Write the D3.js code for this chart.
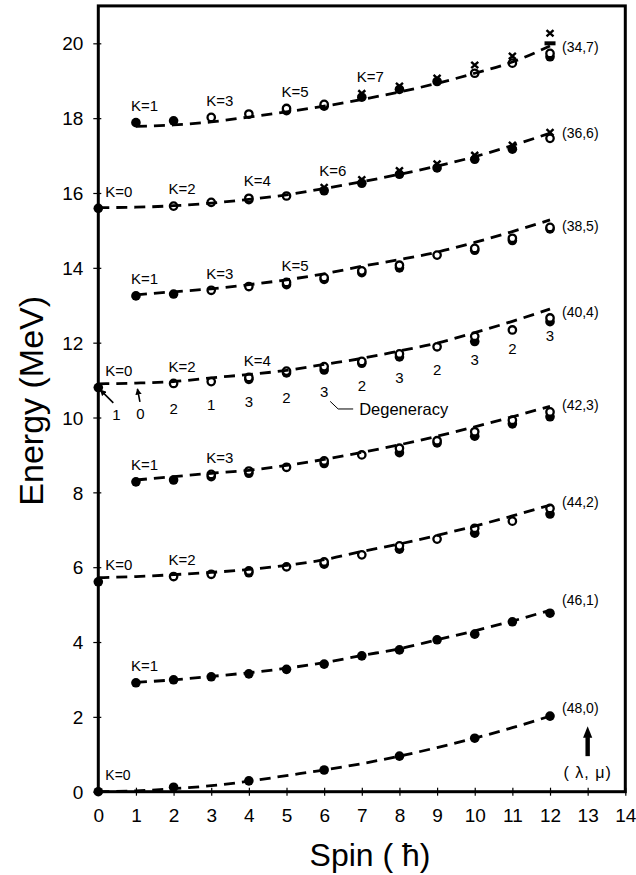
<!DOCTYPE html>
<html>
<head>
<meta charset="utf-8">
<script src="https://cdn.jsdelivr.net/npm/d3@7"></script>
<style>
  body { margin: 0; background: #fff; }
  svg { display: block; }
  text { font-family: Arial, "Liberation Sans", sans-serif; fill: #000; }
</style>
</head>
<body>
<div id="chart"></div>
<script>
// Rotational bands (lambda, mu): energy (MeV) against spin.
const xTicks = [0, 1, 2, 3, 4, 5, 6, 7, 8, 9, 10, 11, 12, 13, 14];
const yTicks = [0, 2, 4, 6, 8, 10, 12, 14, 16, 18, 20];

const bandNames = ["(34,7)", "(36,6)", "(38,5)", "(40,4)", "(42,3)", "(44,2)", "(46,1)", "(48,0)"];
const bandFirstSpin = [1, 0, 1, 0, 1, 0, 1, 0];
const bandLabelE = [19.91, 17.59, 15.12, 12.83, 10.33, 7.75, 5.12, 2.24];
const bandK = [[1, 3, 5, 7], [0, 2, 4, 6], [1, 3, 5], [0, 2, 4], [1, 3], [0, 2], [1], [0]];

// dashed fit lines, one value per spin starting at bandFirstSpin
const line34_7 = [17.78, 17.82, 17.9, 18.03, 18.17, 18.32, 18.5, 18.7, 18.93, 19.2, 19.5, 19.93];
const line36_6 = [15.61, 15.62, 15.66, 15.73, 15.83, 15.95, 16.12, 16.3, 16.5, 16.72, 16.97, 17.27, 17.6];
const line38_5 = [13.28, 13.36, 13.44, 13.55, 13.68, 13.84, 14.04, 14.22, 14.42, 14.68, 14.97, 15.28];
const line40_4 = [10.9, 10.92, 10.96, 11.06, 11.15, 11.26, 11.42, 11.58, 11.78, 11.99, 12.27, 12.57, 12.9];
const line42_3 = [8.33, 8.42, 8.51, 8.59, 8.72, 8.88, 9.07, 9.27, 9.5, 9.75, 10.02, 10.3];
const line44_2 = [5.72, 5.75, 5.8, 5.86, 5.94, 6.05, 6.2, 6.42, 6.62, 6.85, 7.1, 7.37, 7.66];
const line46_1 = [2.92, 2.99, 3.08, 3.18, 3.3, 3.45, 3.64, 3.82, 4.06, 4.3, 4.56, 4.85];
const line48_0 = [0, 0.02, 0.08, 0.16, 0.28, 0.43, 0.58, 0.75, 0.95, 1.18, 1.43, 1.71, 2.02];

// states: [spin, energy]
const filled34_7 = [[1, 17.88], [2, 17.93], [5, 18.2], [6, 18.32], [7, 18.56], [8, 18.77], [9, 18.98], [12, 19.64]];
const open34_7 = [[3, 18.02], [4, 18.11], [5, 18.26], [6, 18.37], [10, 19.2], [11, 19.47], [12, 19.73]];
const cross34_7 = [[7, 18.66], [8, 18.86], [9, 19.07], [10, 19.42], [11, 19.66], [12, 20.27]];
const bar34_7 = [[12, 20.0]];

const filled36_6 = [[0, 15.59], [4, 15.82], [6, 16.06], [7, 16.26], [8, 16.5], [9, 16.67], [10, 16.9], [11, 17.17]];
const open36_6 = [[2, 15.65], [3, 15.75], [4, 15.86], [5, 15.92], [12, 17.46]];
const cross36_6 = [[6, 16.15], [7, 16.36], [8, 16.6], [9, 16.78], [10, 17.01], [11, 17.28], [12, 17.62]];

const filled38_5 = [[1, 13.25], [2, 13.3], [5, 13.55], [6, 13.69], [7, 13.87], [8, 14.0], [10, 14.47], [11, 14.73], [12, 15.04]];
const open38_5 = [[3, 13.4], [4, 13.5], [5, 13.61], [6, 13.74], [7, 13.92], [8, 14.07], [9, 14.34], [10, 14.52], [11, 14.79], [12, 15.08]];

const filled40_4 = [[0, 10.8], [4, 11.02], [5, 11.19], [6, 11.27], [7, 11.45], [8, 11.62], [10, 12.03], [12, 12.56]];
const open40_4 = [[2, 10.91], [3, 10.96], [4, 11.07], [5, 11.24], [6, 11.36], [7, 11.5], [8, 11.7], [9, 11.89], [10, 12.17], [11, 12.34], [12, 12.66]];

const filled42_3 = [[1, 8.28], [2, 8.33], [3, 8.42], [4, 8.51], [6, 8.77], [8, 9.06], [9, 9.32], [10, 9.5], [11, 9.83], [12, 10.02]];
const open42_3 = [[3, 8.48], [4, 8.57], [5, 8.67], [6, 8.84], [7, 9.0], [8, 9.18], [9, 9.38], [10, 9.62], [11, 9.93], [12, 10.15]];

const filled44_2 = [[0, 5.61], [4, 5.85], [6, 6.08], [8, 6.48], [10, 6.91], [12, 7.42]];
const open44_2 = [[2, 5.75], [3, 5.81], [4, 5.9], [5, 6.01], [6, 6.14], [7, 6.33], [8, 6.57], [9, 6.75], [10, 7.04], [11, 7.23], [12, 7.57]];

const filled46_1 = [[1, 2.91], [2, 2.99], [3, 3.07], [4, 3.15], [5, 3.27], [6, 3.41], [7, 3.63], [8, 3.79], [9, 4.06], [10, 4.21], [11, 4.54], [12, 4.77]];

const filled48_0 = [[0, 0], [2, 0.12], [4, 0.29], [6, 0.58], [8, 0.95], [10, 1.43], [12, 2.02]];

// degeneracy of the (40,4) states, spin 0..12
const degeneracy = [1, 0, 2, 1, 3, 2, 3, 2, 3, 2, 3, 2, 3];

const bandLines = [line34_7, line36_6, line38_5, line40_4, line42_3, line44_2, line46_1, line48_0];
const bandFilled = [filled34_7, filled36_6, filled38_5, filled40_4, filled42_3, filled44_2, filled46_1, filled48_0];
const bandOpen = [open34_7, open36_6, open38_5, open40_4, open42_3, open44_2, [], []];
const bandCross = [cross34_7, cross36_6, [], [], [], [], [], []];
const bandBar = [bar34_7, [], [], [], [], [], [], []];

const width = 636, height = 875;
const svg = d3.select("#chart").append("svg")
    .attr("width", width).attr("height", height);

const x = d3.scaleLinear().domain([0, 14]).range([98.3, 625.3]);
const y = d3.scaleLinear().domain([0, 21]).range([791.7, 5.9]);

// axes
const xAxis = svg.append("g")
    .attr("transform", `translate(0,${y(0)})`)
    .call(d3.axisBottom(x).tickValues(xTicks).tickFormat(d3.format("d")).tickSize(4).tickPadding(0));
xAxis.select(".domain").remove();
xAxis.selectAll(".tick line").attr("y1", -4).attr("y2", 4).attr("stroke-width", 1.2);
xAxis.selectAll(".tick text").attr("font-size", 19).attr("font-family", null).attr("dy", null).attr("y", 30);

const yAxis = svg.append("g")
    .attr("transform", `translate(${x(0)},0)`)
    .call(d3.axisLeft(y).tickValues(yTicks).tickFormat(d3.format("d")).tickSize(5).tickPadding(0));
yAxis.select(".domain").remove();
yAxis.selectAll(".tick line").attr("x1", -5).attr("x2", 3).attr("stroke-width", 1.2);
yAxis.selectAll(".tick text").attr("font-size", 19).attr("font-family", null).attr("x", -15).attr("dy", "0.35em");

svg.append("rect")
    .attr("x", x(0)).attr("y", y(21))
    .attr("width", x(14) - x(0)).attr("height", y(0) - y(21))
    .attr("fill", "none").attr("stroke", "#000").attr("stroke-width", 3);

svg.append("text")
    .attr("transform", `translate(43,${(y(0) + y(21)) / 2 + 2}) rotate(-90)`)
    .attr("text-anchor", "middle").attr("font-size", 34)
    .text("Energy (MeV)");

svg.append("text")
    .attr("x", 370).attr("y", 866)
    .attr("text-anchor", "middle").attr("font-size", 32)
    .text("Spin ( ħ)");

const plot = svg.append("g");
const line = d3.line().x(d => x(d[0])).y(d => y(d[1])).curve(d3.curveMonotoneX);

bandNames.forEach((name, i) => {
    const pts = bandLines[i].map((e, k) => [bandFirstSpin[i] + k, e]);
    const g = plot.append("g");

    g.selectAll(".filled").data(bandFilled[i]).join("circle")
        .attr("cx", d => x(d[0])).attr("cy", d => y(d[1])).attr("r", 4.8)
        .attr("fill", "#000");

    g.selectAll(".open").data(bandOpen[i]).join("circle")
        .attr("cx", d => x(d[0])).attr("cy", d => y(d[1])).attr("r", 3.7)
        .attr("fill", "#fff").attr("stroke", "#000").attr("stroke-width", 2.3);

    // dashed fit drawn over the states, as in the figure
    g.append("path")
        .attr("d", line(pts))
        .attr("fill", "none").attr("stroke", "#000")
        .attr("stroke-width", 2.8).attr("stroke-dasharray", "11,7");

    g.selectAll(".bar").data(bandBar[i]).join("rect")
        .attr("x", d => x(d[0]) - 5.5).attr("y", d => y(d[1]) - 2)
        .attr("width", 11).attr("height", 4).attr("fill", "#000");

    g.selectAll(".cross").data(bandCross[i]).join("path")
        .attr("transform", d => `translate(${x(d[0])},${y(d[1])})`)
        .attr("d", "M-3.5,-3.2L3.5,3.2M3.5,-3.2L-3.5,3.2")
        .attr("stroke", "#000").attr("stroke-width", 2.4);

    // band label at the right
    g.append("text")
        .attr("x", x(12) + 12).attr("y", y(bandLabelE[i]))
        .attr("dy", "0.35em").attr("font-size", 14)
        .text(name);

    // K labels above the band head of each K
    bandK[i].forEach(K => {
        const states = bandFilled[i].concat(bandOpen[i], bandCross[i]).filter(d => d[0] === K);
        const top = d3.max(states, d => d[1]);
        g.append("text")
            .attr("x", K === 0 ? x(0) + 7 : x(K) - 5)
            .attr("y", y(top) - 17)
            .attr("dy", "0.35em")
            .attr("font-size", i === 7 ? 14 : 15)
            .text(`K=${K}`);
    });
});

// degeneracy numbers under the (40,4) band
const degen = svg.append("g").attr("font-size", 15);
degeneracy.forEach((n, J) => {
    let px = x(J), py = y(line40_4[J]) + 27;
    if (J === 0) { px = x(0) + 18; py = y(line40_4[0]) + 31; }
    if (J === 1) { px = x(1) + 4.5; py = y(line40_4[1]) + 31; }
    degen.append("text")
        .attr("x", px).attr("y", py).attr("dy", "0.35em")
        .attr("text-anchor", "middle").text(n);
});

svg.append("defs").append("marker")
    .attr("id", "head").attr("viewBox", "0 0 10 10")
    .attr("refX", 9).attr("refY", 5)
    .attr("markerWidth", 4).attr("markerHeight", 4)
    .attr("orient", "auto")
    .append("path").attr("d", "M0,0L10,5L0,10Z").attr("fill", "#000");

function pointer(x1, y1, x2, y2) {
    svg.append("line")
        .attr("x1", x1).attr("y1", y1).attr("x2", x2).attr("y2", y2)
        .attr("stroke", "#000").attr("stroke-width", 1.6)
        .attr("marker-end", "url(#head)");
}
const y0 = y(line40_4[0]);
pointer(x(0) + 15, y0 + 19, x(0) + 2, y0 + 6);
pointer(x(1) + 4, y0 + 18, x(1) + 1.5, y0 + 5);

// "Degeneracy" leader from the spin-6 number
const lx = x(6), ly = y(line40_4[6]) + 27;
svg.append("path")
    .attr("d", `M${lx + 6},${ly + 10}L${lx + 14},${ly + 17.6}L${lx + 29},${ly + 17.6}`)
    .attr("fill", "none").attr("stroke", "#000").attr("stroke-width", 1);
svg.append("text")
    .attr("x", lx + 35).attr("y", ly + 17.6).attr("dy", "0.35em")
    .attr("font-size", 16.5).text("Degeneracy");

// (lambda, mu) legend arrow
const ax = x(13);
svg.append("rect")
    .attr("x", ax - 2.2).attr("y", y(1.46))
    .attr("width", 4.4).attr("height", y(0.95) - y(1.46)).attr("fill", "#000");
svg.append("path")
    .attr("d", `M${ax - 4.6},${y(1.44)}L${ax},${y(1.75)}L${ax + 4.6},${y(1.44)}Z`)
    .attr("fill", "#000");
svg.append("text")
    .attr("x", ax).attr("y", y(0.52)).attr("dy", "0.35em")
    .attr("text-anchor", "middle")
    .attr("font-family", "'Liberation Serif', 'Times New Roman', serif")
    .attr("font-size", 16).attr("letter-spacing", 1)
    .attr("xml:space", "preserve")
    .text("( λ, μ)");
</script>
</body>
</html>
